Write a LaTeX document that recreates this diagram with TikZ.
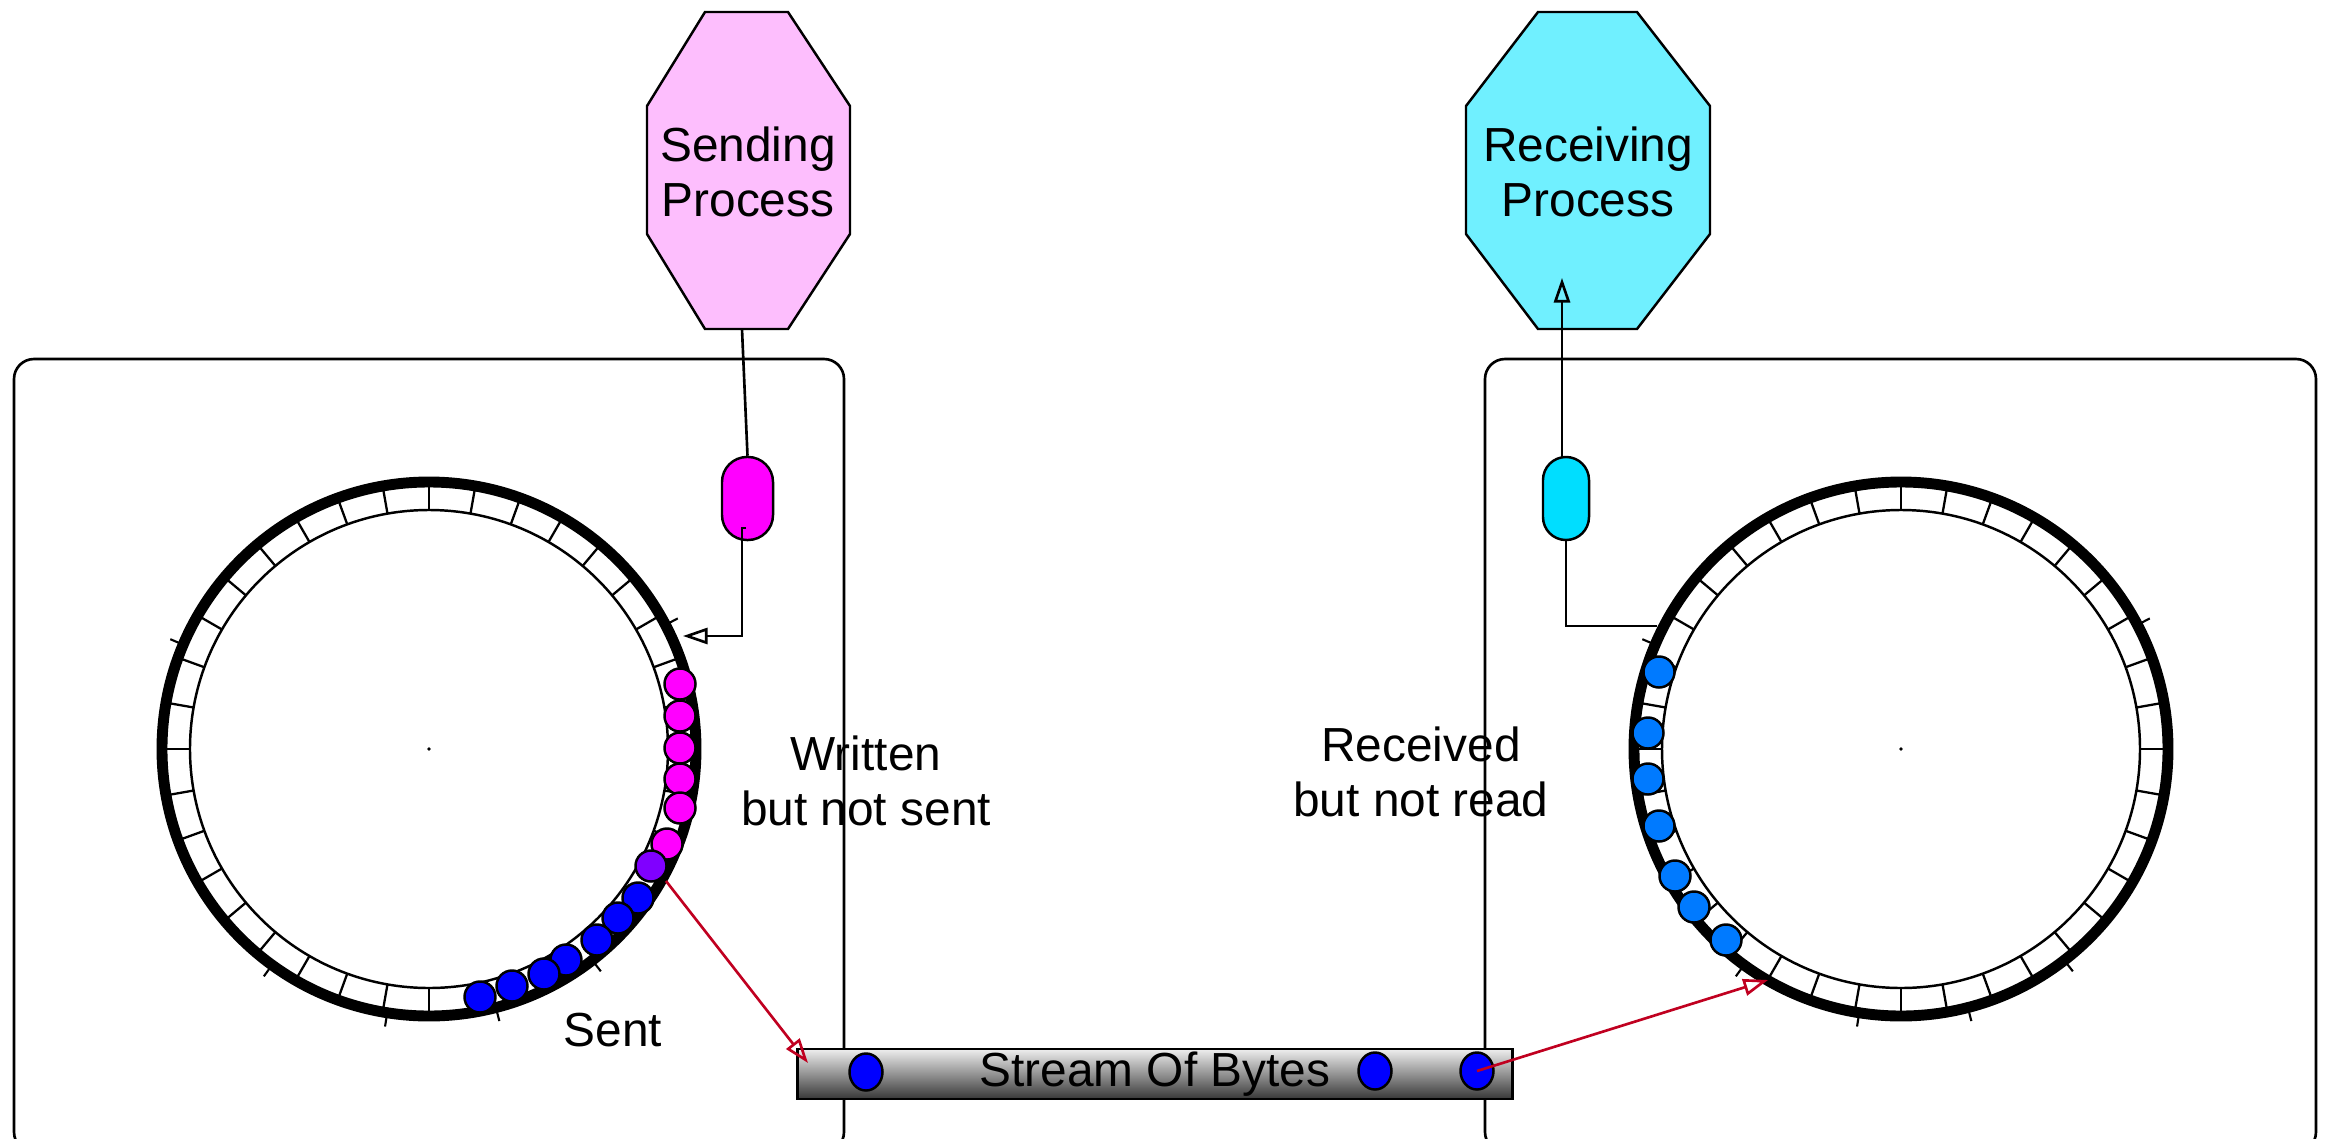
\documentclass[tikz,border=0pt]{standalone}
\usepackage{fontspec}
\setmainfont{Liberation Sans}
\usetikzlibrary{arrows.meta,shapes.geometric}

\definecolor{sendpink}{RGB}{253,190,253}
\definecolor{recvcyan}{RGB}{112,240,255}
\definecolor{pillmag}{RGB}{255,0,255}
\definecolor{pillcyan}{RGB}{0,222,255}
\definecolor{sentblue}{RGB}{0,0,255}
\definecolor{edgepurple}{RGB}{128,0,255}
\definecolor{recvblue}{RGB}{0,122,255}
\definecolor{flowred}{RGB}{192,0,32}
\definecolor{barlight}{RGB}{238,238,238}
\definecolor{bardark}{RGB}{55,55,55}

\begin{document}
\begin{tikzpicture}[x=0.01cm,y=-0.01cm,
  every node/.style={font=\fontsize{13.6}{15.6}\selectfont},
  hostbox/.style={draw, line width=0.75pt, rounded corners=0.2cm},
  procshape/.style={draw, line width=0.7pt},
  pill/.style={draw, line width=0.7pt, rectangle, inner sep=0pt,
    minimum height=0.83cm},
  wire/.style={line width=0.75pt},
  openhead/.style={-{Triangle[open, length=7pt, width=4.6pt]}},
  redflow/.style={draw=flowred, line width=0.75pt,
    -{Triangle[open, length=7pt, width=4.8pt]}},
  byte/.style={circle, draw, line width=0.7pt, inner sep=0pt, minimum size=0.31cm},
  streambyte/.style={ellipse, draw, line width=0.7pt, inner sep=0pt,
    minimum width=0.33cm, minimum height=0.37cm, fill=sentblue},
  label/.style={align=center, inner sep=0pt}
]
\useasboundingbox (0,0) rectangle (2326,1139);
\clip (0,0) rectangle (2326,1139);

% host frames (they run past the lower edge)
\draw[hostbox] (14,359) rectangle (844,1152);
\draw[hostbox] (1485,359) rectangle (2316,1152);

% process octagons
\draw[procshape, fill=sendpink] (705,12) -- (788,12) -- (850,106) -- (850,234)
  -- (788,329) -- (705,329) -- (647,234) -- (647,106) -- cycle;
\node[label] (sendtxt) at (748,172) {Sending\\Process};
\coordinate (sendbot) at (742,329);

\draw[procshape, fill=recvcyan] (1538,12) -- (1637,12) -- (1710,106) -- (1710,234)
  -- (1637,329) -- (1538,329) -- (1466,234) -- (1466,106) -- cycle;
\node[label] (recvtxt) at (1588,172) {Receiving\\Process};
\coordinate (recvtip) at (1562,278);

% socket handles
\node[pill, fill=pillmag, minimum width=0.51cm, rounded corners=0.25cm]
  (sockS) at (747.5,498.5) {};
\node[pill, fill=pillcyan, minimum width=0.46cm, rounded corners=0.23cm]
  (sockR) at (1566,498.5) {};

\draw[wire] (sendbot) -- (sockS.north);
\coordinate (writeorg) at (742,528);
\coordinate (writetip) at (683,636);
\draw[wire, openhead] (746,528) -- (writeorg) |- (writetip);

\draw[wire, openhead] (sockR.north -| recvtip) -- (recvtip);
\coordinate (readpt) at (1657,626);
\draw[wire] (sockR.south) |- (readpt);

% ring buffers
\foreach \cx in {429,1901} {
  \draw[line width=0.7pt] (\cx,749) circle[radius=239];
  \foreach \a in {0,10,...,350}
    \draw[line width=0.65pt] ({\cx+239*cos(\a)},{749-239*sin(\a)})
      -- ({\cx+267*cos(\a)},{749-267*sin(\a)});
  \draw[line width=3.1pt] (\cx,749) circle[radius=267];
  \foreach \a in {27.7,-52.3,-75.5,-99,-126,157}
    \draw[line width=0.6pt] ({\cx+262*cos(\a)},{749-262*sin(\a)})
      -- ({\cx+281*cos(\a)},{749-281*sin(\a)});
  \fill (\cx,749) circle[radius=1.8];
}

% send buffer contents
\node[byte, fill=pillmag] (w1) at (680,684) {};
\node[byte, fill=pillmag] (w2) at (680,716) {};
\node[byte, fill=pillmag] (w3) at (680,748) {};
\node[byte, fill=pillmag] (w4) at (680,779) {};
\node[byte, fill=pillmag] (w5) at (680,808) {};
\node[byte, fill=pillmag] (w6) at (667,844) {};
\node[byte, fill=edgepurple] (wp) at (651,866) {};
\node[byte, fill=sentblue] (s1) at (638,898) {};
\node[byte, fill=sentblue] (s2) at (618,918) {};
\node[byte, fill=sentblue] (s3) at (597,940) {};
\node[byte, fill=sentblue] (s4) at (566,960) {};
\node[byte, fill=sentblue] (s5) at (544,974) {};
\node[byte, fill=sentblue] (s6) at (512,986) {};
\node[byte, fill=sentblue] (s7) at (480,997) {};

% receive buffer contents
\node[byte, fill=recvblue] (r1) at (1659,672) {};
\node[byte, fill=recvblue] (r2) at (1648,733) {};
\node[byte, fill=recvblue] (r3) at (1648,779) {};
\node[byte, fill=recvblue] (r4) at (1659,826) {};
\node[byte, fill=recvblue] (r5) at (1675,876) {};
\node[byte, fill=recvblue] (r6) at (1694,907) {};
\node[byte, fill=recvblue] (r7) at (1726,940) {};

% labels
\node[label] (written) at (866,781) {Written\\but not sent};
\node[label] (received) at (1421,772) {Received\\but not read};
\node[label] (sent) at (613,1030) {Sent};

% byte stream
\node[draw, line width=0.8pt, rectangle, inner sep=0pt,
  minimum width=7.14cm, minimum height=0.5cm,
  top color=barlight, bottom color=bardark] (stream) at (1155,1074) {Stream Of Bytes};
\node[streambyte] (b1) at (866,1072) {};
\node[streambyte] (b2) at (1375,1071) {};
\node[streambyte] (b3) at (1477,1071) {};

% flow into and out of the stream
\coordinate (sendout) at (666,881);
\coordinate (streamin) at (808,1063);
\coordinate (recvin) at (1768,980);
\draw[redflow] (sendout) -- (streamin);
\draw[redflow] (b3.center) -- (recvin);
\end{tikzpicture}
\end{document}
